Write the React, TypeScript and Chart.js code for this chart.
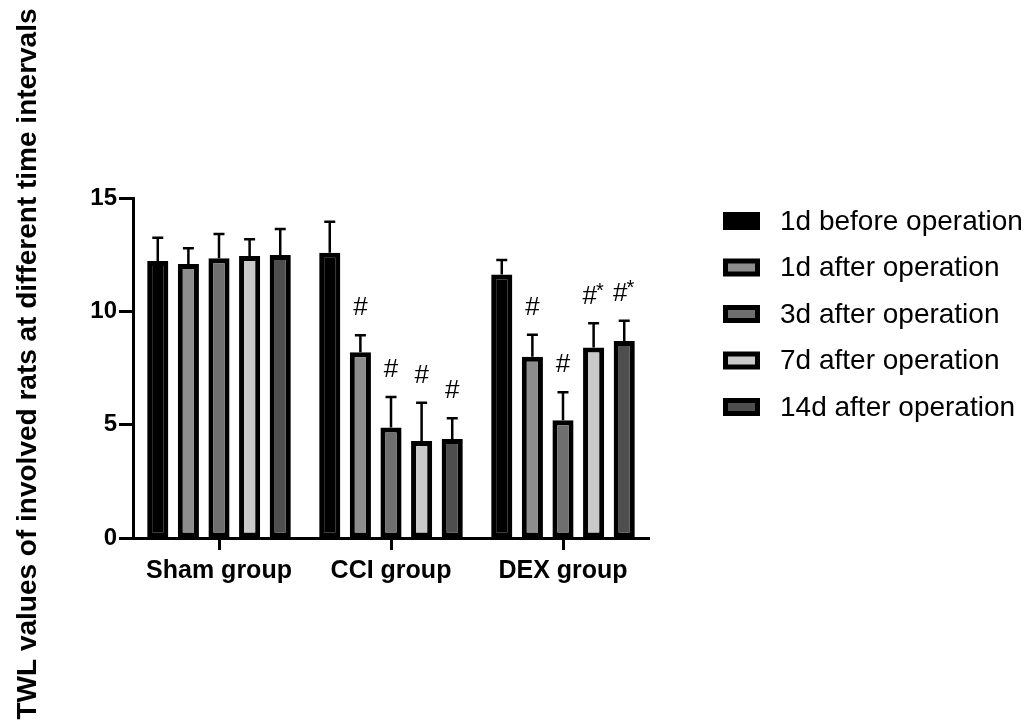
import React, { useEffect, useRef } from "react";
import { Chart, registerables } from "chart.js";

Chart.register(...registerables);

const GROUPS = ["Sham group", "CCI group", "DEX group"];
const SERIES = [
  "1d before operation",
  "1d after operation",
  "3d after operation",
  "7d after operation",
  "14d after operation",
];
const BEFORE_1D = [12.22, 12.59, 11.62];
const AFTER_1D = [12.09, 8.19, 8.0];
const AFTER_3D = [12.34, 4.88, 5.2];
const AFTER_7D = [12.44, 4.28, 8.4];
const AFTER_14D = [12.48, 4.37, 8.69];

const ERR_BEFORE_1D = [1.03, 1.36, 0.64];
const ERR_AFTER_1D = [0.69, 0.76, 0.97];
const ERR_AFTER_3D = [1.07, 1.34, 1.23];
const ERR_AFTER_7D = [0.74, 1.69, 1.07];
const ERR_AFTER_14D = [1.15, 0.91, 0.9];

const MARK_BEFORE_1D = ["", "", ""];
const MARK_AFTER_1D = ["", "#", "#"];
const MARK_AFTER_3D = ["", "#", "#"];
const MARK_AFTER_7D = ["", "#", "#*"];
const MARK_AFTER_14D = ["", "#", "#*"];

const Y_TICKS = [0, 5, 10, 15];
const Y_TITLE = "TWL values of involved rats at different time intervals";

const COLORS = ["#000000", "#8d8d8d", "#6f6f6f", "#c9c9c9", "#4e4e4e"];

const VALUES = [BEFORE_1D, AFTER_1D, AFTER_3D, AFTER_7D, AFTER_14D];
const ERRORS = [ERR_BEFORE_1D, ERR_AFTER_1D, ERR_AFTER_3D, ERR_AFTER_7D, ERR_AFTER_14D];
const MARKS = [MARK_BEFORE_1D, MARK_AFTER_1D, MARK_AFTER_3D, MARK_AFTER_7D, MARK_AFTER_14D];

const FONT = "Arial, 'Liberation Sans', Helvetica, sans-serif";

const errorBarPlugin = {
  id: "errorBars",
  afterDatasetsDraw(chart: any) {
    const ctx = chart.ctx;
    const yScale = chart.scales.y;
    ctx.save();
    ctx.strokeStyle = "#000";
    ctx.lineWidth = 2.5;
    ctx.fillStyle = "#000";
    VALUES.forEach((vals, i) => {
      const meta = chart.getDatasetMeta(i);
      meta.data.forEach((bar: any, j: number) => {
        const topVal = vals[j] + ERRORS[i][j];
        const yTop = yScale.getPixelForValue(topVal);
        const yBar = yScale.getPixelForValue(vals[j]);
        ctx.beginPath();
        ctx.moveTo(bar.x, yBar);
        ctx.lineTo(bar.x, yTop);
        ctx.moveTo(bar.x - 5.5, yTop);
        ctx.lineTo(bar.x + 5.5, yTop);
        ctx.stroke();
        const mark = MARKS[i][j];
        if (mark) {
          const yMark = yTop - 27;
          ctx.textBaseline = "middle";
          if (mark.includes("*")) {
            ctx.font = `26px ${FONT}`;
            const w1 = ctx.measureText("#").width;
            ctx.font = `20px ${FONT}`;
            const w2 = ctx.measureText("*").width;
            const x0 = bar.x - (w1 + w2) / 2;
            ctx.textAlign = "left";
            ctx.font = `26px ${FONT}`;
            ctx.fillText("#", x0, yMark);
            ctx.font = `20px ${FONT}`;
            ctx.fillText("*", x0 + w1 - 1, yMark - 5);
          } else {
            ctx.textAlign = "center";
            ctx.font = `26px ${FONT}`;
            ctx.fillText(mark, bar.x, yMark);
          }
        }
      });
    });
    ctx.restore();
  },
};

const legendPlugin = {
  id: "customLegend",
  afterDraw(chart: any) {
    const ctx = chart.ctx;
    ctx.save();
    const x = 723;
    const y0 = 221;
    const step = 46.5;
    SERIES.forEach((label, i) => {
      const cy = y0 + i * step;
      ctx.fillStyle = "#000";
      ctx.fillRect(x, cy - 9, 37, 18);
      ctx.fillStyle = COLORS[i];
      ctx.fillRect(x + 5, cy - 4, 27, 8);
      ctx.fillStyle = "#000";
      ctx.font = `28px ${FONT}`;
      ctx.textAlign = "left";
      ctx.textBaseline = "middle";
      ctx.fillText(label, 780, cy + 1);
    });
    ctx.restore();
  },
};

const yTitlePlugin = {
  id: "yTitle",
  afterDraw(chart: any) {
    const ctx = chart.ctx;
    ctx.save();
    ctx.translate(28, 364);
    ctx.rotate(-Math.PI / 2);
    ctx.font = `bold 28px ${FONT}`;
    ctx.fillStyle = "#000";
    ctx.textAlign = "center";
    ctx.textBaseline = "middle";
    ctx.fillText(Y_TITLE, 0, 0);
    ctx.restore();
  },
};

export default function App() {
  const ref = useRef<HTMLCanvasElement | null>(null);

  useEffect(() => {
    if (!ref.current) return;
    const chart = new Chart(ref.current, {
      type: "bar",
      data: {
        labels: GROUPS,
        datasets: VALUES.map((vals, i) => ({
          label: SERIES[i],
          data: vals,
          backgroundColor: COLORS[i],
          borderColor: "#000",
          borderWidth: 5,
          borderSkipped: false,
          categoryPercentage: 0.89,
          barPercentage: 0.69,
        })),
      },
      options: {
        animation: false,
        responsive: false,
        maintainAspectRatio: false,
        layout: { padding: { left: 0, top: 198, right: 378, bottom: 0 } },
        plugins: {
          legend: { display: false },
          tooltip: { enabled: false },
          title: { display: false },
        },
        scales: {
          x: {
            grid: {
              display: true,
              drawOnChartArea: false,
              offset: false,
              tickLength: 12,
              tickWidth: 3,
              tickColor: "#000",
            },
            border: { display: true, color: "#000", width: 3 },
            ticks: {
              color: "#000",
              font: { family: FONT, size: 25, weight: "bold" },
              padding: 6,
              maxRotation: 0,
            },
            afterFit(scale: any) {
              scale.height = 187;
            },
          },
          y: {
            min: 0,
            max: 15,
            afterBuildTicks(scale: any) {
              scale.ticks = Y_TICKS.map((v) => ({ value: v }));
            },
            grid: {
              display: true,
              drawOnChartArea: false,
              tickLength: 14,
              tickWidth: 3,
              tickColor: "#000",
            },
            border: { display: true, color: "#000", width: 3 },
            ticks: {
              color: "#000",
              font: { family: FONT, size: 24, weight: "bold" },
              padding: 2,
            },
            afterFit(scale: any) {
              scale.width = 133;
            },
          },
        },
      },
      plugins: [errorBarPlugin, legendPlugin, yTitlePlugin],
    } as any);
    return () => chart.destroy();
  }, []);

  return (
    <div style={{ position: "absolute", left: 0, top: 0, width: 1027, height: 725, background: "#fff" }}>
      <canvas ref={ref} width={1027} height={725} style={{ display: "block" }} />
    </div>
  );
}
